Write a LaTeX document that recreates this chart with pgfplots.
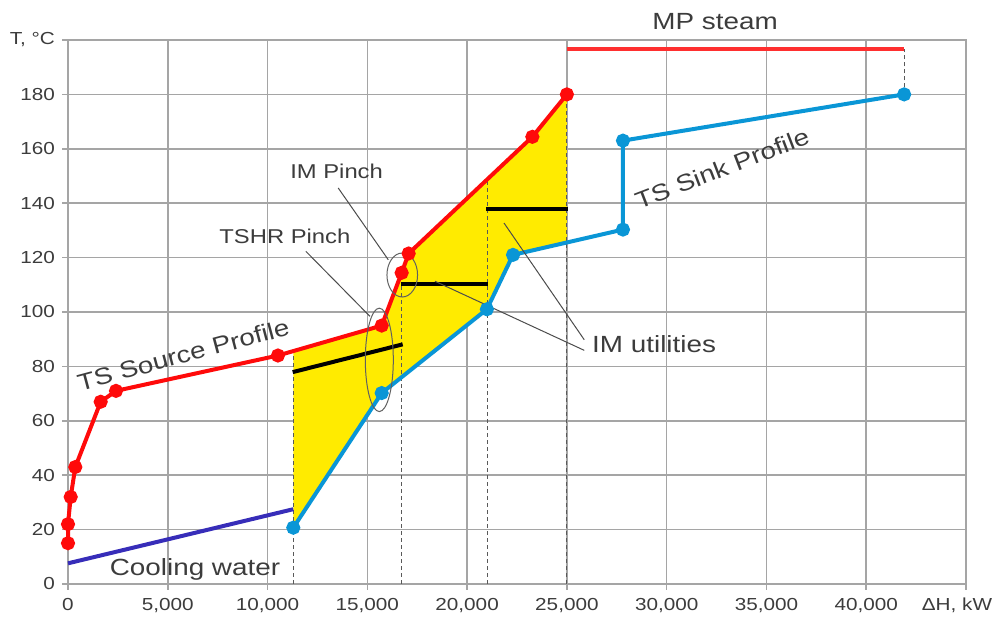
\documentclass[border=0pt]{standalone}
\usepackage{pgfplots}
\pgfplotsset{compat=1.18}
\usepackage{fontspec}
\setmainfont{Liberation Sans}[FakeStretch=1.19]
\definecolor{srcred}{RGB}{255,10,10}
\definecolor{sinkblue}{RGB}{10,150,214}
\definecolor{cwblue}{RGB}{55,45,185}
\definecolor{fillyel}{RGB}{255,235,0}
\definecolor{gridgray}{RGB}{165,165,165}
\definecolor{txt}{RGB}{60,60,60}
\newcommand{\dHlabel}{ΔH, kW}
\newcommand{\Tlabel}{T, °C}
\begin{document}
\begin{tikzpicture}
\useasboundingbox (-34pt,-18pt) rectangle (463.5pt,292pt);
\begin{axis}[
  scale only axis, width=449pt, height=272pt,
  xmin=0, xmax=45000, ymin=0, ymax=200,
  xtick={0,5000,...,40000},
  xticklabels={0,{5,000},{10,000},{15,000},{20,000},{25,000},{30,000},{35,000},{40,000}},
  ytick={0,20,...,180},
  extra x ticks={45000}, extra x tick labels={\dHlabel},
  extra x tick style={xticklabel style={xshift=-4.5pt}},
  extra y ticks={200}, extra y tick labels={\Tlabel},
  grid=major, grid style={gridgray, line width=0.75pt},
  axis line style={gridgray, line width=0.75pt},
  tick style={gridgray, line width=0.75pt},
  tick align=outside, major tick length=3pt,
  xtick pos=bottom, ytick pos=left,
  ticklabel style={font=\fontsize{8.7}{10}\selectfont, text=txt},
  xticklabel style={yshift=-0.5pt},
  /pgf/number format/assume math mode=true,
  clip=false, axis on top=false,
]
% yellow area
\addplot[fill=fillyel, draw=none] coordinates {
 (11290,20.7) (11290,85.6) (15720,95) (16720,114.4) (17070,121.5) (23270,164.4) (25000,180)
 (25000,125.6) (22300,121) (20990,101) (15720,70.2)} -- cycle;
% dashed lines
\addplot[gray!70!black, line width=0.5pt, dash pattern=on 2pt off 1.5pt] coordinates {(11290,0) (11290,85.6)};
\addplot[gray!70!black, line width=0.5pt, dash pattern=on 2pt off 1.5pt] coordinates {(16720,0) (16720,110)};
\addplot[gray!70!black, line width=0.5pt, dash pattern=on 2pt off 1.5pt] coordinates {(21000,0) (21000,148.5)};
\addplot[gray!70!black, line width=0.5pt, dash pattern=on 2pt off 1.5pt] coordinates {(25000,0) (25000,180)};
\addplot[gray!70!black, line width=0.5pt, dash pattern=on 2pt off 1.5pt] coordinates {(41900,180) (41900,196.8)};
% cooling water
\addplot[cwblue, line width=2pt] coordinates {(0,7.6) (11290,27.5)};
% MP steam
\addplot[srcred!85!white, line width=2pt] coordinates {(25000,196.8) (41870,196.8)};
% sink profile
\addplot[sinkblue, line width=2pt, mark=*, mark size=2.5pt, mark options={fill=sinkblue, draw=sinkblue}] coordinates {
 (11290,20.7) (15720,70.2) (20990,101) (22300,121) (27810,130.3) (27810,163) (41900,180)};
% source profile
\addplot[srcred, line width=2pt, mark=*, mark size=2.5pt, mark options={fill=srcred, draw=srcred}] coordinates {
 (0,15) (0,22) (135,32) (366,43) (1638,67) (2405,71) (10520,84) (15720,95) (16720,114.4) (17070,121.5) (23270,164.4) (25000,180)};
% IM utilities
\addplot[black, line width=2pt] coordinates {(11260,77.9) (16770,88.1)};
\addplot[black, line width=2pt] coordinates {(16680,110.3) (21030,110.3)};
\addplot[black, line width=2pt] coordinates {(20960,138) (25080,138)};
% ellipses and leaders
\draw[gray!75!black, line width=0.5pt] (axis cs:16750,113.6) ellipse [x radius=7.65pt, y radius=11pt];
\draw[gray!75!black, line width=0.5pt] (axis cs:15600,82.4) ellipse [x radius=7pt, y radius=25.85pt];
\draw[gray!60!black, line width=0.5pt] (axis cs:13540,145.6) -- (axis cs:16050,119.2);
\draw[gray!60!black, line width=0.5pt] (axis cs:11920,122.3) -- (axis cs:15130,98.4);
\draw[gray!60!black, line width=0.5pt] (axis cs:25870,89.8) -- (axis cs:21850,132.7);
\draw[gray!60!black, line width=0.5pt] (axis cs:25870,85.9) -- (axis cs:18390,111.3);
% labels
\node[text=txt, font=\fontsize{11.7}{13}\selectfont, rotate=15] at (axis cs:5777,84.3) {TS Source Profile};
\node[text=txt, font=\fontsize{11.7}{13}\selectfont, rotate=21] at (axis cs:32776,152.8) {TS Sink Profile};
\node[text=txt, font=\fontsize{11.7}{13}\selectfont] at (axis cs:6363,5.2) {Cooling water};
\node[text=txt, font=\fontsize{11.7}{13}\selectfont] at (axis cs:32430,206.6) {MP steam};
\node[text=txt, font=\fontsize{11.7}{13}\selectfont] at (axis cs:29370,88) {IM utilities};
\node[text=txt, font=\fontsize{10}{12}\selectfont] at (axis cs:13460,151.7) {IM Pinch};
\node[text=txt, font=\fontsize{10}{12}\selectfont] at (axis cs:10870,127.8) {TSHR Pinch};
\end{axis}
\end{tikzpicture}
\end{document}
